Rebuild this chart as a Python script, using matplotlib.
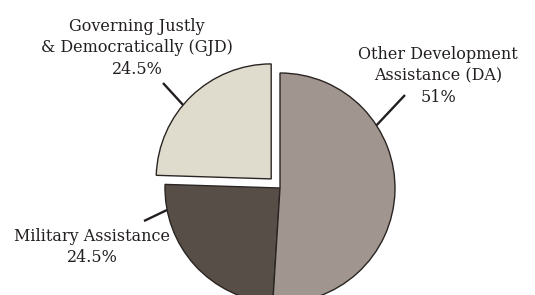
import numpy as np
import matplotlib
matplotlib.use("Agg")
import matplotlib.pyplot as plt

# slice data, counter-clockwise from 12 o'clock
labels = ["Governing Justly\n& Democratically (GJD)", "Military Assistance", "Other Development\nAssistance (DA)"]
shares = [24.5, 24.5, 51.0]
pct_text = ["24.5%", "24.5%", "51%"]
colors = ["#dfdccd", "#574e48", "#a0958f"]
explode = [0.11, 0, 0]

plt.rcParams["font.family"] = "DejaVu Serif"
text_color = "#231f20"

# frame: pie radius ~115 px, centre at (280, 188) px from top-left
R_PX, CX, CY = 115, 280, 188


def px(x, y):
    """pixel position (from top-left) -> pie data coords"""
    return (x - CX) / R_PX, (CY - y) / R_PX


fig = plt.figure(figsize=(5.35, 2.95), dpi=100)
ax = fig.add_axes([0, 0, 1, 1])

wedges, _ = ax.pie(shares, colors=colors, explode=explode, startangle=90,
                   counterclock=True, radius=1.0,
                   wedgeprops=dict(edgecolor="#2a2522", linewidth=1.0))

ax.set_xlim(-CX / R_PX, (535 - CX) / R_PX)
ax.set_ylim(-(295 - CY) / R_PX, CY / R_PX)
ax.set_aspect("equal")
ax.axis("off")

# label placement (text centre, leader angle on rim, leader outer end)
layout = [
    dict(txt=px(137, 48), ang=140, out=px(163, 83)),
    dict(txt=px(92, 247), ang=191, out=px(144, 221)),
    dict(txt=px(438, 76), ang=33, out=px(405, 95)),
]

for w, lab, pct, lay in zip(wedges, labels, pct_text, layout):
    cx, cy = w.center
    a = np.deg2rad(lay["ang"])
    x0, y0 = cx + np.cos(a), cy + np.sin(a)
    ax.plot([x0, lay["out"][0]], [y0, lay["out"][1]], color=text_color, lw=1.7,
            solid_capstyle="butt")
    ax.text(lay["txt"][0], lay["txt"][1], lab + "\n" + pct, ha="center", va="center",
            fontsize=11.5, color=text_color, linespacing=1.38)

fig.savefig("out.png", dpi=100)
